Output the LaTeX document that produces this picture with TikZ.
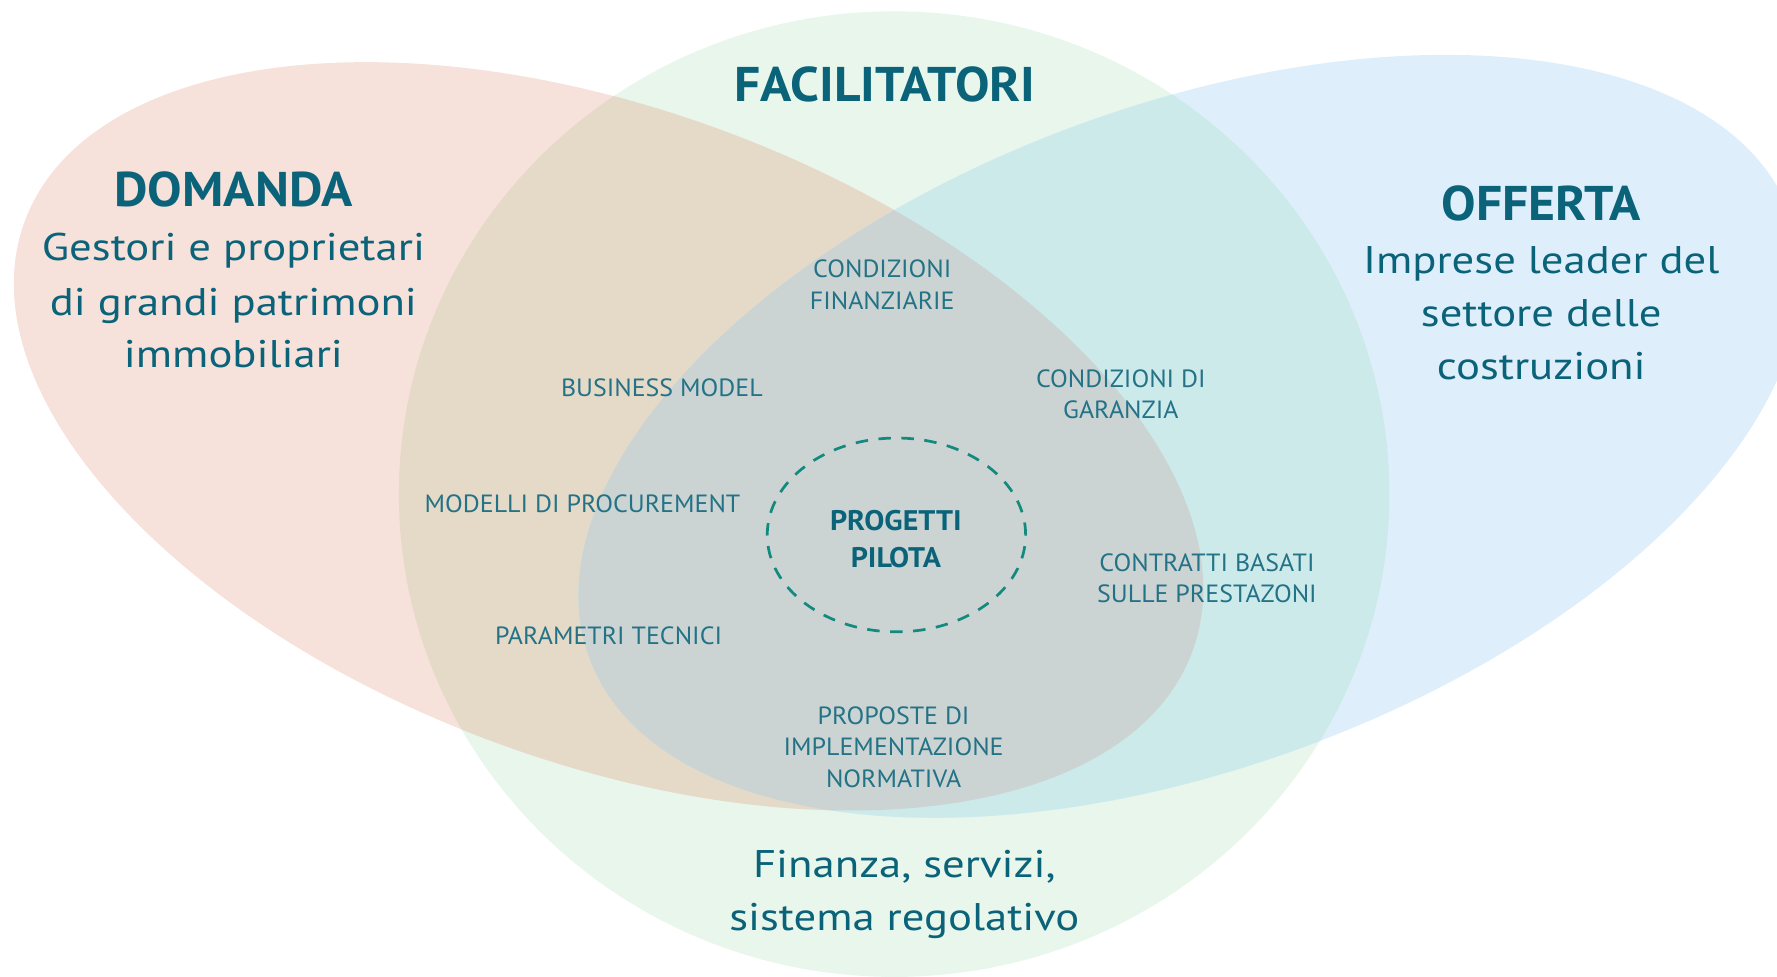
\documentclass[tikz,border=0pt]{standalone}
\usepackage{fontspec}
\setmainfont{PT Sans}
\newfontfamily\headfont{PT Sans}[FakeStretch=1.06]
\newfontfamily\bodyfont{PT Sans}[FakeStretch=1.16]
\newfontfamily\smallfont{PT Sans}[FakeStretch=1.04]
\usetikzlibrary{shapes.geometric}
\definecolor{txt}{HTML}{0B6379}
\definecolor{pinkc}{HTML}{F6E1DB}
\definecolor{greenc}{HTML}{E8F6EC}
\definecolor{bluec}{HTML}{DEEFFB}
\definecolor{brownc}{HTML}{E5D9C8}
\definecolor{tealc}{HTML}{CDEAEB}
\definecolor{grayc}{HTML}{CBD4D3}
\definecolor{dashc}{HTML}{138A7E}
\tikzset{
  pinkrot/.style={rotate around={-20.2:(537,385)}},
  bluerot/.style={rotate around={20.25:(1050,385)}},
  lbl/.style={inner sep=0pt, anchor=base, text=txt},
  headtxt/.style={lbl, font=\headfont\bfseries\fontsize{43}{50}\selectfont},
  bodytxt/.style={lbl, font=\bodyfont\fontsize{34}{40}\selectfont},
  smalltxt/.style={lbl, text=txt!90, font=\smallfont\fontsize{22}{26}\selectfont},
  pilottxt/.style={lbl, font=\headfont\bfseries\fontsize{25}{30}\selectfont},
  pilotring/.style={ellipse, draw=dashc, line width=2.4pt, dash pattern=on 11pt off 9.3pt, inner sep=0pt, minimum width=228pt, minimum height=171pt}
}
\begin{document}
\begin{tikzpicture}[x=1pt,y=-1pt]
\useasboundingbox (0,0) rectangle (1568,862);
% single regions
\fill[greenc] (789,436) ellipse [x radius=437pt, y radius=426pt];
\fill[pinkc,pinkrot] (537,385) ellipse [x radius=549pt, y radius=288pt];
\fill[bluec,bluerot] (1050,385) ellipse [x radius=565pt, y radius=292pt];
% pink & green
\begin{scope}
  \clip[pinkrot] (537,385) ellipse [x radius=549pt, y radius=288pt];
  \fill[brownc] (789,436) ellipse [x radius=437pt, y radius=426pt];
\end{scope}
% blue & green
\begin{scope}
  \clip[bluerot] (1050,385) ellipse [x radius=565pt, y radius=292pt];
  \fill[tealc] (789,436) ellipse [x radius=437pt, y radius=426pt];
\end{scope}
% all three
\begin{scope}
  \clip[pinkrot] (537,385) ellipse [x radius=549pt, y radius=288pt];
  \fill[grayc,bluerot] (1050,385) ellipse [x radius=565pt, y radius=292pt];
\end{scope}

% headings
\node[headtxt] (fac) at (781,90) {FACILITATORI};
\node[headtxt] (dom) at (206,182) {DOMANDA};
\node[headtxt] (off) at (1360,195) {OFFERTA};

\node[bodytxt] (dom1) at (206,230) {Gestori e proprietari};
\node[bodytxt] (dom2) at (206,278) {di grandi patrimoni};
\node[bodytxt] (dom3) at (206,324) {immobiliari};

\node[bodytxt] (off1) at (1360,241) {Imprese leader del};
\node[bodytxt] (off2) at (1360,288) {settore delle};
\node[bodytxt] (off3) at (1360,335) {costruzioni};

\node[bodytxt] (fac1) at (798,774) {Finanza, servizi,};
\node[bodytxt] (fac2) at (798,821) {sistema regolativo};

% small labels
\node[smalltxt] (cf1) at (778.5,245) {CONDIZIONI};
\node[smalltxt] (cf2) at (778.5,273.5) {FINANZIARIE};
\node[smalltxt] (bm) at (584,350) {BUSINESS MODEL};
\node[smalltxt] (cg1) at (989,342) {CONDIZIONI DI};
\node[smalltxt] (cg2) at (989,369) {GARANZIA};
\node[smalltxt] (mp) at (514,452) {MODELLI DI PROCUREMENT};
\node[smalltxt] (cb1) at (1065,504) {CONTRATTI BASATI};
\node[smalltxt] (cb2) at (1065,532) {SULLE PRESTAZONI};
\node[smalltxt] (pt) at (537,569) {PARAMETRI TECNICI};
\node[smalltxt] (pi1) at (788.5,639) {PROPOSTE DI};
\node[smalltxt] (pi2) at (788.5,667) {IMPLEMENTAZIONE};
\node[smalltxt] (pi3) at (788.5,695) {NORMATIVA};

% pilot projects
\node[pilotring] (ring) at (791,472) {};
\node[pilottxt] (pp1) at (790.5,468.5) {PROGETTI};
\node[pilottxt] (pp2) at (790.5,501) {PILOTA};
\end{tikzpicture}
\end{document}
